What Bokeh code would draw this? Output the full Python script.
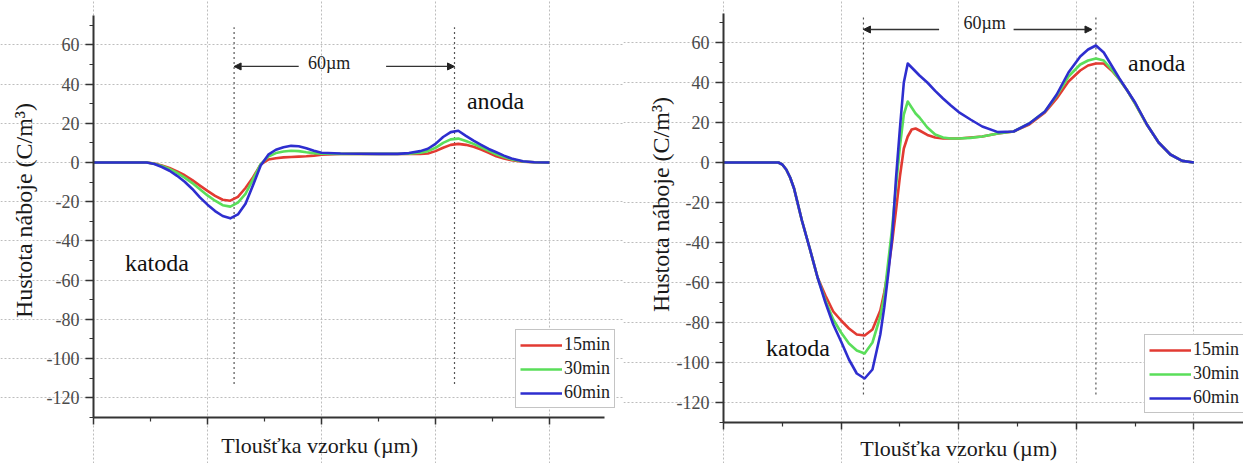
from bokeh.plotting import figure
from bokeh.layouts import row
from bokeh.models import (Range1d, FixedTicker, Label, Arrow, NormalHead,
                          Legend, LegendItem)
from bokeh.embed import file_html
from bokeh.resources import INLINE

# ---------------- data ----------------
series_names = ["15min", "30min", "60min"]
series_colors = ["#e23a32", "#5ade5a", "#2e2ecf"]

y_ticks = [-120, -100, -80, -60, -40, -20, 0, 20, 40, 60]
y_tick_labels = ["-120", "-100", "-80", "-60", "-40", "-20", "0", "20", "40", "60"]
y_minor = [-130, -110, -90, -70, -50, -30, -10, 10, 30, 50, 70]
x_ticks = [0, 30, 60, 90, 120]
x_minor = [15, 45, 75, 105]

x_label = "Tloušťka vzorku (µm)"
y_label = "Hustota náboje (C/m³)"

# left chart (thickness in µm, charge density in C/m3)
left_x = [0, 10, 14, 16, 18, 20, 22, 24, 26, 28, 30, 32, 34, 36, 38, 40, 42, 44,
          46, 48, 50, 52, 54, 56, 58, 60, 65, 70, 75, 80, 83, 86, 88, 90, 92, 94,
          96, 98, 100, 102, 104, 106, 108, 110, 113, 116, 120]
left_15 = [0, 0, 0, -0.5, -1.5, -2.8, -4.5, -6.5, -9, -11.8, -14.5, -17, -19, -19.5,
           -17.5, -13, -7.5, -1, 1.5, 2.2, 2.6, 2.8, 3, 3.2, 3.5, 4, 4.3, 4.4, 4.3,
           4.3, 4.3, 4.4, 4.6, 5.8, 7.5, 9, 9.5, 9, 8, 6.6, 5, 3.2, 2, 1.2, 0.4, 0.1, 0]
left_30 = [0, 0, 0, -0.6, -1.8, -3.3, -5.3, -7.7, -10.5, -13.7, -16.8, -19.5, -21.8,
           -22.5, -20.5, -16, -8.5, -0.8, 3, 4.8, 5.6, 6, 5.8, 5.2, 4.8, 4.5, 4.4, 4.4,
           4.4, 4.4, 4.5, 5, 5.8, 7.5, 10, 11.8, 12.2, 11, 9.5, 7.8, 6, 4.2, 2.8, 1.6,
           0.5, 0.1, 0]
left_60 = [0, 0, 0, -0.8, -2.3, -4.2, -6.8, -9.8, -13.5, -17.8, -21.5, -24.8, -27.3,
           -28.5, -26.5, -21, -11.5, -1.5, 4, 6.5, 7.8, 8.5, 8.3, 7.3, 6, 5, 4.6, 4.5,
           4.4, 4.4, 4.8, 5.8, 7, 9.5, 13, 15.5, 16.2, 13.6, 11.2, 9, 6.9, 5.2, 3.5, 2,
           0.6, 0.1, 0]

# right chart
right_x = [0, 10, 14, 15, 16, 17, 18, 20, 22, 24, 26, 28, 30, 32, 34, 36, 38, 40,
           41, 42, 43, 44, 45, 46, 47, 48, 49, 50, 52, 54, 56, 58, 60, 63, 66, 70,
           74, 78, 82, 85, 88, 91, 93, 95, 97, 99, 101, 103, 105, 108, 111, 114,
           117, 120]
right_15 = [0, 0, 0, -1, -3.5, -7.5, -13, -29, -43, -57.5, -66.5, -74.5, -79, -83,
            -86, -86.5, -83.5, -74, -65, -54, -40, -24, -7, 7, 13, 16.5, 17, 16, 13.8,
            12.5, 12, 12, 12, 12.5, 13, 14.5, 15.5, 19, 25, 32, 40.5, 46, 48.5, 49.5,
            49.5, 46, 41.5, 36, 29.5, 19, 10, 4, 0.8, 0]
right_30 = [0, 0, 0, -1, -3.5, -7.5, -13, -29, -43, -57.5, -69, -78.5, -85, -90.5,
            -94, -95.5, -90, -77, -67, -50, -33, -12, 8, 24, 30.5, 27.5, 24.5, 22.5,
            17.5, 14, 12.5, 12, 12, 12.3, 13, 14.5, 15.5, 19.5, 25.5, 33.5, 43, 49, 51,
            52, 51, 46.5, 41.5, 36, 29.5, 19, 10, 4, 0.8, 0]
right_60 = [0, 0, 0, -1, -3.5, -7.5, -13, -29, -43, -57.5, -70, -81, -89.5, -98.5,
            -105.5, -108, -103.5, -86, -72.5, -56, -38, -8, 17, 40, 49.5, 47.5, 45.5,
            43.5, 40, 35.8, 32, 28.5, 25.2, 21.5, 18, 15.2, 15.5, 19.5, 25.5, 34, 45,
            53, 56.5, 58.5, 55, 48.5, 42, 36, 30, 19, 10, 4, 0.8, 0]

# annotations: electrode marker positions, 60 µm arrows, labels
left_electrodes = [37, 95]
left_marker_span = [-113, 69]
left_arrows = [(54, 37), (77, 95)]
left_arrow_y = 49
left_gap_text = (62, 51)
left_katoda = (16.7, -51.5)
left_anoda = (105.8, 31.6)

right_electrodes = [35.7, 95]
right_marker_span = [-116, 73]
right_arrows = [(55, 35.7), (74, 94)]
right_arrow_y = 66.5
right_gap_text = (66.6, 70)
right_katoda = (19, -92.5)
right_anoda = (110.5, 50)

SERIF = "Liberation Serif"
Y_MIN = -130


def make_panel(width, xs, ys, x_view, y_view, x_axis_end, y_axis_end, electrodes,
               marker_span, arrows, arrow_y, gap_text, katoda, anoda, katoda_bg,
               legend_loc, xlab_pos, ylab_pos):
    p = figure(width=width, height=463, x_range=Range1d(*x_view),
               y_range=Range1d(*y_view), output_backend="svg",
               toolbar_location=None, min_border_left=0, min_border_right=0,
               min_border_top=0, min_border_bottom=0)
    p.outline_line_color = None
    p.background_fill_color = "white"
    p.border_fill_color = "white"

    # axes drawn at the data origin (their texts are drawn as labels below)
    p.yaxis.fixed_location = 0
    p.xaxis.fixed_location = Y_MIN
    p.yaxis.bounds = (Y_MIN, y_axis_end)
    p.xaxis.bounds = (0, x_axis_end)
    p.xaxis.ticker = FixedTicker(ticks=x_ticks, minor_ticks=x_minor)
    p.yaxis.ticker = FixedTicker(ticks=y_ticks, minor_ticks=y_minor)
    p.yaxis.major_label_overrides = {t: "" for t in y_ticks}
    p.xaxis.major_label_overrides = {t: "" for t in x_ticks}
    p.axis.major_label_text_font_size = "1px"
    p.axis.major_label_standoff = 0
    p.axis.axis_line_color = "#333333"
    p.axis.axis_line_width = 2
    p.axis.major_tick_line_color = "#333333"
    p.axis.major_tick_line_width = 1.5
    p.axis.minor_tick_line_color = "#333333"
    p.axis.minor_tick_line_width = 1.2
    p.axis.major_tick_in = 0
    p.axis.minor_tick_in = 0
    p.yaxis.major_tick_out = 8
    p.yaxis.minor_tick_out = 4
    p.xaxis.major_tick_out = 7
    p.xaxis.minor_tick_out = 4

    for t, lab in zip(y_ticks, y_tick_labels):
        p.add_layout(Label(x=0, y=t, x_offset=-14, text=lab, text_font=SERIF,
                           text_font_size="18px", text_color="#4a4a4a",
                           text_align="right", text_baseline="middle"))
    p.add_layout(Label(x=xlab_pos[0], y=Y_MIN, y_offset=xlab_pos[1], text=x_label,
                       text_font=SERIF, text_font_size="22px", text_color="#1a1a1a",
                       text_align="center", text_baseline="middle"))
    p.add_layout(Label(x=0, y=ylab_pos[0], x_offset=ylab_pos[1], text=y_label,
                       angle=90, angle_units="deg", text_font=SERIF,
                       text_font_size="24px", text_color="#1a1a1a",
                       text_align="center", text_baseline="middle"))

    # grid limited to the axes extent
    p.xgrid.ticker = FixedTicker(ticks=x_ticks)
    p.ygrid.ticker = FixedTicker(ticks=y_ticks)
    p.xgrid.bounds = (Y_MIN, y_axis_end)
    p.ygrid.bounds = (0, x_axis_end)
    p.grid.grid_line_color = "#bdbdbd"
    p.grid.grid_line_dash = "2 2"
    p.grid.grid_line_width = 1

    # electrode markers
    p.segment(x0=electrodes, y0=[marker_span[0]] * len(electrodes),
              x1=electrodes, y1=[marker_span[1]] * len(electrodes),
              line_color="#555555", line_width=1.2, line_dash="2 3")

    # curves
    renderers = []
    for name, color, y in zip(series_names, series_colors, ys):
        r = p.line(xs, y, line_color=color, line_width=2.6, line_join="round")
        renderers.append(r)

    # arrows and gap text
    for xs0, xe0 in arrows:
        p.add_layout(Arrow(end=NormalHead(size=7, fill_color="#222222",
                                          line_color="#222222"),
                           x_start=xs0, y_start=arrow_y, x_end=xe0, y_end=arrow_y,
                           line_color="#333333", line_width=1.3))
    p.add_layout(Label(x=gap_text[0], y=gap_text[1], text="60µm",
                       text_font=SERIF, text_font_size="18px", text_color="#222222",
                       text_align="center", text_baseline="middle"))
    kat = Label(x=katoda[0], y=katoda[1], text="katoda", text_font=SERIF,
                text_font_size="24px", text_color="#111111", text_align="center",
                text_baseline="middle")
    if katoda_bg:
        kat.background_fill_color = "white"
    p.add_layout(kat)
    p.add_layout(Label(x=anoda[0], y=anoda[1], text="anoda", text_font=SERIF,
                       text_font_size="24px", text_color="#111111",
                       text_align="center", text_baseline="middle"))

    legend = Legend(items=[LegendItem(label=n, renderers=[r])
                           for n, r in zip(series_names, renderers)],
                    location=legend_loc, glyph_width=42, glyph_height=20,
                    label_height=20, label_standoff=2, spacing=3, padding=4,
                    margin=0, border_line_color="#8a8a8a", border_line_width=1,
                    background_fill_color="white", background_fill_alpha=1,
                    label_text_font=SERIF, label_text_font_size="18px",
                    label_text_color="#222222")
    p.add_layout(legend)
    return p


p1 = make_panel(623, left_x, [left_15, left_30, left_60], (-24.47, 139.47),
                (-153.57, 82.65), 134.5, 75, left_electrodes, left_marker_span,
                left_arrows, left_arrow_y, left_gap_text, left_katoda, left_anoda,
                False, (515, 55), (59.5, -28), (-24.5, -69))
p2 = make_panel(620, right_x, [right_15, right_30, right_60], (-25.51, 132.65),
                (-150.5, 81), 132.6, 74.5, right_electrodes, right_marker_span,
                right_arrows, right_arrow_y, right_gap_text, right_katoda,
                right_anoda, True, (521, 50), (60, -26), (-21, -63))

layout = row(p1, p2, spacing=0)
open("out.html", "w").write(file_html(layout, INLINE))
